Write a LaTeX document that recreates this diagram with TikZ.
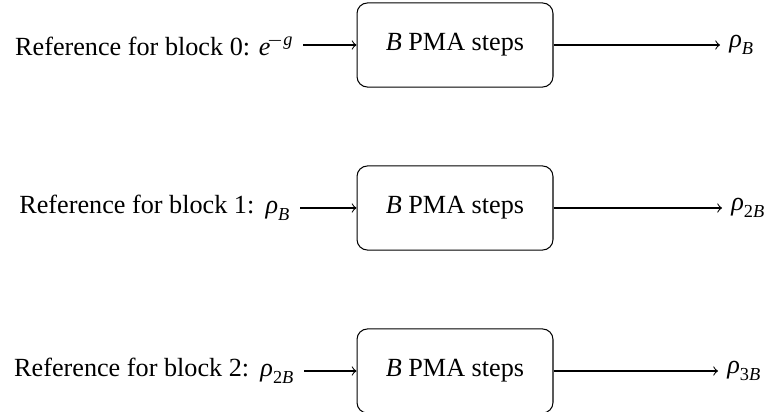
\documentclass[tikz,border=0pt]{standalone}
\usepackage{amsmath}
\usepackage{fontspec}
\setmainfont{Liberation Serif}
\newcommand\mi[1]{\text{\itshape #1}}
\newcommand\mr[1]{\text{\upshape #1}}
\tikzset{
  pmabox/.style={draw, rounded corners=4pt, minimum width=74.8pt, minimum height=32.1pt, inner sep=0pt, font=\fontsize{10}{12}\selectfont},
  inlabel/.style={anchor=east, inner sep=3.33pt, font=\fontsize{10}{12}\selectfont},
  outlabel/.style={anchor=west, inner sep=3.33pt, font=\fontsize{10}{12}\selectfont},
  flow/.style={->, line width=0.4pt}
}
\begin{document}
\begin{tikzpicture}[x=0.3817pt,y=-0.3817pt]
\useasboundingbox (0,0) rectangle (779,412);
% row 0
\node[pmabox] (b0) at (455,45) {\textit{B} PMA steps};
\node[inlabel] (i0) at (303,45) {Reference for block 0: $\mi{e}^{\!-\mi{g}}$};
\node[outlabel] (o0) at (720,45) {$\mi{ρ}_{\mi{B}}$};
\draw[flow] (i0.east) -- (b0.west);
\draw[flow] (b0.east) -- (o0.west);
% row 1
\node[pmabox] (b1) at (455,208) {\textit{B} PMA steps};
\node[inlabel] (i1) at (300,208) {Reference for block 1: \kern1pt$\mi{ρ}_{\mi{B}}$};
\node[outlabel] (o1) at (722,208) {$\mi{ρ}_{\mr{2}\mi{B}}$};
\draw[flow] (i1.east) -- (b1.west);
\draw[flow] (b1.east) -- (o1.west);
% row 2
\node[pmabox] (b2) at (455,371) {\textit{B} PMA steps};
\node[inlabel] (i2) at (304,371) {Reference for block 2: \kern1pt$\mi{ρ}_{\mr{2}\mi{B}}$};
\node[outlabel] (o2) at (718,371) {$\mi{ρ}_{\mr{3}\mi{B}}$};
\draw[flow] (i2.east) -- (b2.west);
\draw[flow] (b2.east) -- (o2.west);
\end{tikzpicture}
\end{document}
